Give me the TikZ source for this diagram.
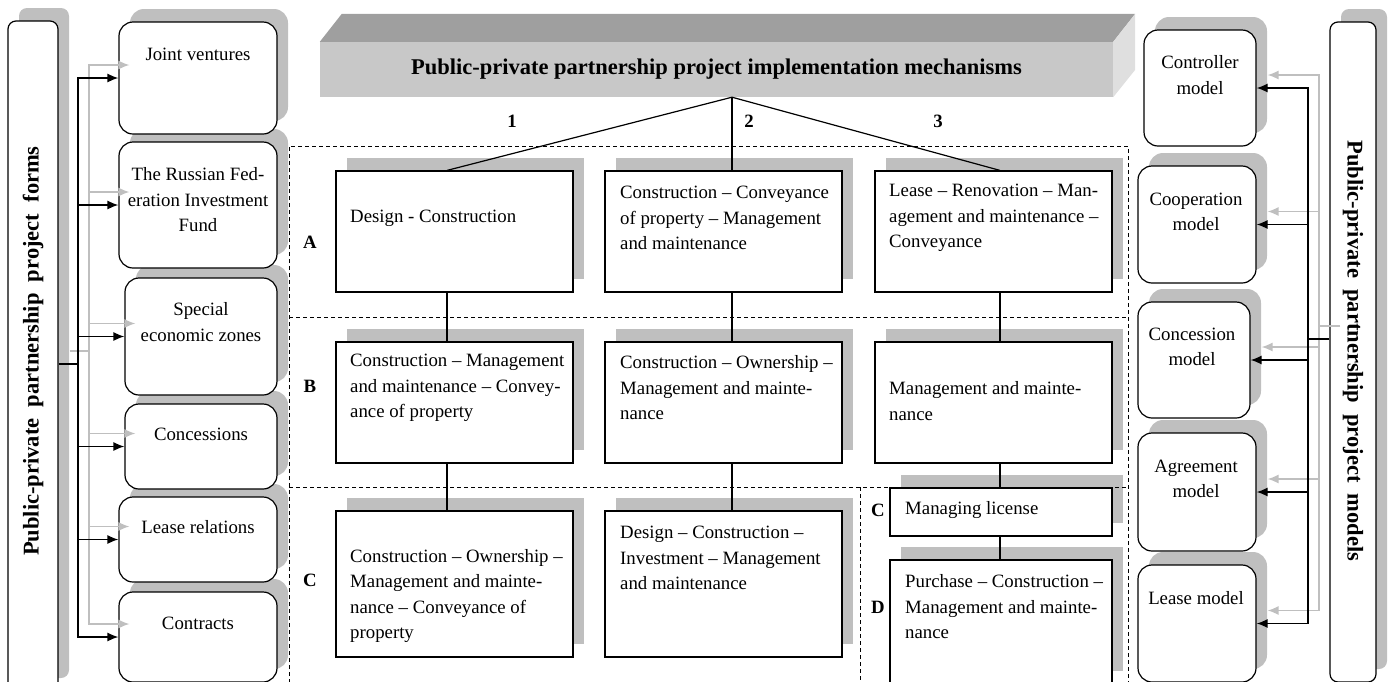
\documentclass[tikz,border=0pt]{standalone}
\usepackage{fontspec}
\setmainfont{Liberation Serif}
\usepackage{tikz}
\usetikzlibrary{calc,shapes,arrows.meta,shadows}

\begin{document}
\begin{tikzpicture}[x=1pt,y=-1pt,
    shad/.style={drop shadow={shadow xshift=11pt,shadow yshift=13pt,fill=gray!50,opacity=1}},
    formbox/.style={draw,line width=1.2pt,fill=white,rounded corners=14pt,shad,inner sep=0pt},
    mechbox/.style={draw,line width=1.2pt,fill=white,shad,inner sep=0pt},
    bartext/.style={font=\fontsize{22.5}{27}\selectfont\bfseries,inner sep=0pt},
    txt/.style={font=\fontsize{18.8}{25.5}\selectfont,inner sep=0pt},
    lbl/.style={font=\fontsize{18.8}{25.5}\selectfont\bfseries,inner sep=0pt},
    conn/.style={line width=1.4pt,-{Latex[length=11pt,width=9pt]}},
    gconn/.style={conn,gray!50},
    zone/.style={line width=1pt,dash pattern=on 4pt off 3pt}]
        \useasboundingbox (0,0) rectangle (1390,681);

        % side bars
        \node[formbox,rounded corners=8pt,minimum width=50,minimum height=670] (fbar) at (33,356) {};
        \node[bartext,rotate=90] (fbart) at (33,351) {Public-private~ partnership~ project~ forms};
        \node[formbox,rounded corners=8pt,minimum width=46,minimum height=660] (mbar) at (1353,352) {};
        \node[bartext,rotate=-90] (mbart) at (1353,351) {Public-private~ partnership~ project~ models};

        % forms (bottom first, so upper boxes cover the lower shadows)
        \foreach \n/\x/\y/\w/\h in {ctr/198/637/158/90, lr/198/539.5/158/85, con/201/446.5/152/85,
                                    sez/201/336.5/152/117, rf/198/205/158/126, jv/198/78/158/112}
        \node[formbox,minimum width=\w,minimum height=\h] (\n) at (\x,\y) {};
        \node[txt,align=center] (jvt) at (198,54) {Joint ventures};
        \node[txt,align=center] (rft) at (198,200) {The Russian Fed-\\eration Investment\\Fund};
        \node[txt,align=center] (sezt) at (201,322) {Special\\economic zones};
        \node[txt] (cont) at (201,434) {Concessions};
        \node[txt] (lrt) at (198,527) {Lease relations};
        \node[txt] (ctrt) at (198,623) {Contracts};

        % models
        \foreach \n/\x/\y/\w/\h in {cm/1200/88/112/116, cpm/1197/224.5/118/117, csm/1194/360/112/116,
                                    am/1197/492/118/118, lm/1197/623.5/118/117}
        \node[formbox,minimum width=\w,minimum height=\h] (\n) at (\x,\y) {};
        \node[txt,align=center] (cmt) at (1200,75) {Controller\\model};
        \node[txt,align=center] (cpmt) at (1196,212) {Cooperation\\model};
        \node[txt,align=center] (csmt) at (1192,347) {Concession\\model};
        \node[txt,align=center] (amt) at (1196,479) {Agreement\\model};
        \node[txt] (lmt) at (1196,598) {Lease model};

        % title block
        \node[fill=gray!43,minimum width=793,minimum height=55,inner sep=0pt,
              font=\fontsize{22.5}{27}\selectfont\bfseries] (title) at (716.5,69.5)
              {Public-private partnership project implementation mechanisms};
        \fill[gray!75] (title.north west) -- ++(22,-28) -- ($(title.north east)+(22,-28)$)
              -- (title.north east) -- cycle;
        \fill[gray!25] (title.north east) -- ++(22,-28) -- ++(0,56) -- (title.south east) -- cycle;

        % mechanisms
        \foreach \n/\x/\y/\h in {a1/454.5/231.5/121, a2/723.5/231.5/121, a3/993.5/231.5/121,
                                 b1/454.5/402.5/121, b2/723.5/402.5/121, b3/993.5/402.5/121,
                                 c1/454.5/584/146, c2/723.5/584/146}
        \node[mechbox,minimum width=237,minimum height=\h] (\n) at (\x,\y) {};
        \node[mechbox,minimum width=222,minimum height=48] (c3) at (1001,512) {};
        \node[mechbox,minimum width=222,minimum height=124] (d3) at (1001,622) {};

        \node[txt,align=left,anchor=west] (a1t) at (350,218) {Design - Construction};
        \node[txt,align=left,anchor=west] (a2t) at (620,218) {Construction – Conveyance\\of property – Management\\and maintenance};
        \node[txt,align=left,anchor=west] (a3t) at (889,218) {Lease – Renovation – Man-\\agement and maintenance –\\Conveyance};
        \node[txt,align=left,anchor=west] (b1t) at (350,388) {Construction – Management\\and maintenance – Convey-\\ance of property};
        \node[txt,align=left,anchor=west] (b2t) at (620,388) {Construction – Ownership –\\Management and mainte-\\nance};
        \node[txt,align=left,anchor=west] (b3t) at (889,401) {Management and mainte-\\nance};
        \node[txt,align=left,anchor=west] (c1t) at (350,596) {Construction – Ownership –\\Management and mainte-\\nance – Conveyance of\\property};
        \node[txt,align=left,anchor=west] (c2t) at (620,558) {Design – Construction –\\Investment – Management\\and maintenance};
        \node[txt,align=left,anchor=west] (c3t) at (905,510) {Managing license};
        \node[txt,align=left,anchor=west] (d3t) at (905,607) {Purchase – Construction –\\Management and mainte-\\nance};

        \node[lbl] (n1) at (512,121) {1};
        \node[lbl] (n2) at (749,121) {2};
        \node[lbl] (n3) at (938,121) {3};
        \node[lbl] (la) at (310,242) {A};
        \node[lbl] (lb) at (310,386) {B};
        \node[lbl] (lc) at (310,580) {C};
        \node[lbl] (lc3) at (878,510) {C};
        \node[lbl] (ld) at (878,607) {D};

        % groups
        \draw[zone] (289,690) -- (289,146) -- (1128,146) -- (1128,690);
        \draw[zone] (289,317) -- (1128,317);
        \draw[zone] (289,487) -- (1128,487);
        \draw[zone] (860,487) -- (860,690);

        % tree of mechanisms
        \coordinate (l1) at (447,0);
        \coordinate (l2) at (732,0);
        \coordinate (l3) at (1000,0);
        \coordinate (ttl) at (title.south -| l2);
        \draw[line width=1.2pt] (ttl) -- (a1.north -| l1);
        \draw[line width=1.2pt] (ttl) -- (a2.north -| l2);
        \draw[line width=1.2pt] (ttl) -- (a3.north -| l3);
        \draw[line width=1.2pt] (a1.south -| l1) -- (b1.north -| l1);
        \draw[line width=1.2pt] (b1.south -| l1) -- (c1.north -| l1);
        \draw[line width=1.2pt] (a2.south -| l2) -- (b2.north -| l2);
        \draw[line width=1.2pt] (b2.south -| l2) -- (c2.north -| l2);
        \draw[line width=1.2pt] (a3.south -| l3) -- (b3.north -| l3);
        \draw[line width=1.2pt] (b3.south -| l3) -- (c3.north -| l3);
        \draw[line width=1.2pt] (c3.south -| l3) -- (d3.north -| l3);

        % links from the bars
        \coordinate (fstem) at (78,364);
        \coordinate (fjoin) at (fbar.east |- fstem);
        \coordinate (mstem) at (1308,339);
        \coordinate (mjoin) at (mbar.west |- mstem);
        \foreach \n in {jv,rf,sez,con,lr,ctr}
        \draw[gconn] ([shift={(11,-13)}]fstem) |- ([shift={(11,-13)}]\n.west);
        \draw[gray!50,line width=1.4pt] ([shift={(11,-13)}]fjoin) -- ([shift={(11,-13)}]fstem);
        \foreach \n in {cm,cpm,csm,am,lm}
        \draw[gconn] ([shift={(11,-13)}]mstem) |- ([shift={(11,-13)}]\n.east);
        \draw[gray!50,line width=1.4pt] ([shift={(11,-13)}]mjoin) -- ([shift={(11,-13)}]mstem);

        \foreach \n in {jv,rf,sez,con,lr,ctr}
        \draw[conn] (fstem) |- (\n.west);
        \draw[line width=1.4pt] (fjoin) -- (fstem);
        \foreach \n in {cm,cpm,csm,am,lm}
        \draw[conn] (mstem) |- (\n.east);
        \draw[line width=1.4pt] (mjoin) -- (mstem);
    \end{tikzpicture}
\end{document}
